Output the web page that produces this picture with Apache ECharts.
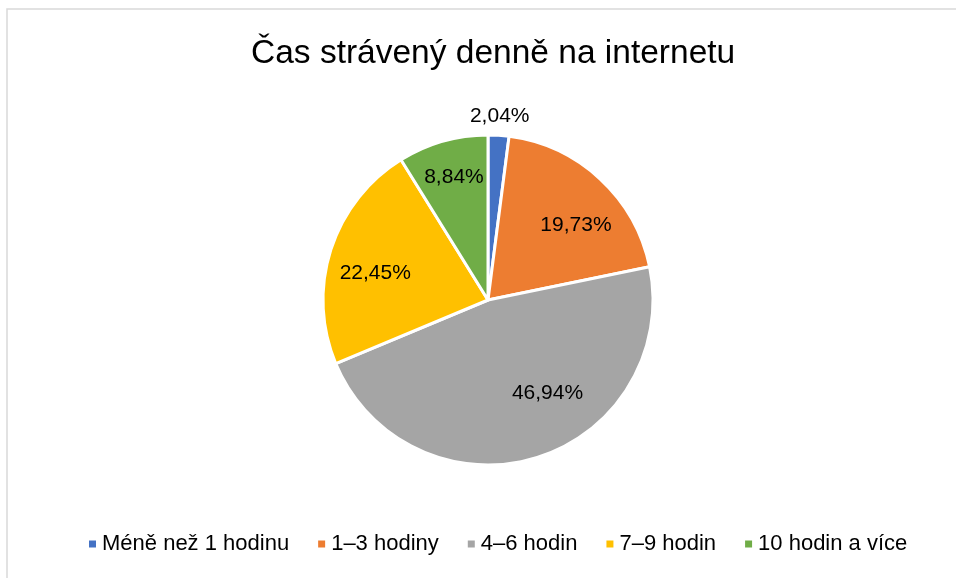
<!DOCTYPE html>
<html>
<head>
<meta charset="utf-8">
<script src="https://cdn.jsdelivr.net/npm/echarts@6/dist/echarts.min.js"></script>
<style>
  html, body { margin: 0; padding: 0; background: #fff; }
  #myEcharts { width: 956px; height: 578px; }
</style>
</head>
<body>
<div id="myEcharts"></div>
<script>
// data
const categories = ["Méně než 1 hodinu", "1–3 hodiny", "4–6 hodin", "7–9 hodin", "10 hodin a více"];
const values = [2.04, 19.73, 46.94, 22.45, 8.84];
const colors = ["#4472C4", "#ED7D31", "#A5A5A5", "#FFC000", "#70AD47"];
// small nudges of the labels, like the spreadsheet's best-fit placement
const labelOffsets = [[4, -64], [6, 14], [24, -22], [2, 10], [-1, -7]];

const fontFamily = "Liberation Sans, Arial, sans-serif";

let chart = echarts.init(document.getElementById("myEcharts"));

const pieData = categories.map((name, i) => ({
    name: name,
    value: values[i],
    itemStyle: { color: colors[i] }
}));

// label-only copy so the labels sit further out than the radius midpoint
const labelData = categories.map((name, i) => ({
    name: name,
    value: values[i],
    label: { offset: labelOffsets[i] }
}));

chart.setOption({
    animation: false,
    title: {
        text: "Čas strávený denně na internetu",
        left: 246,
        top: 32,
        textStyle: {
            fontFamily: fontFamily,
            fontSize: 33.5,
            fontWeight: "normal",
            color: "#000"
        }
    },
    legend: {
        data: categories,
        bottom: 18,
        left: 82,
        icon: "rect",
        itemWidth: 9,
        itemHeight: 9,
        itemGap: 27,
        textStyle: {
            fontFamily: fontFamily,
            fontSize: 22,
            color: "#000"
        }
    },
    graphic: [
        {
            type: "polyline",
            shape: { points: [[7, 578], [7, 9], [956, 9]] },
            style: { stroke: "#d9d9d9", lineWidth: 1.5, fill: null },
            silent: true
        }
    ],
    series: [
        {
            type: "pie",
            center: [488, 300],
            radius: [0, 165],
            startAngle: 90,
            clockwise: true,
            data: pieData,
            label: { show: false },
            labelLine: { show: false },
            itemStyle: { borderColor: "#fff", borderWidth: 3 },
            emphasis: { disabled: true }
        },
        {
            type: "pie",
            center: [488, 300],
            radius: [70, 165],
            startAngle: 90,
            clockwise: true,
            silent: true,
            data: labelData,
            itemStyle: { color: "transparent" },
            label: {
                show: true,
                position: "inside",
                formatter: (p) => p.value.toFixed(2).replace(".", ",") + "%",
                fontFamily: fontFamily,
                fontSize: 21,
                color: "#000"
            },
            labelLine: { show: false },
            emphasis: { disabled: true }
        }
    ]
});

window.addEventListener("resize", () => {
    chart.resize();
});
</script>
</body>
</html>
